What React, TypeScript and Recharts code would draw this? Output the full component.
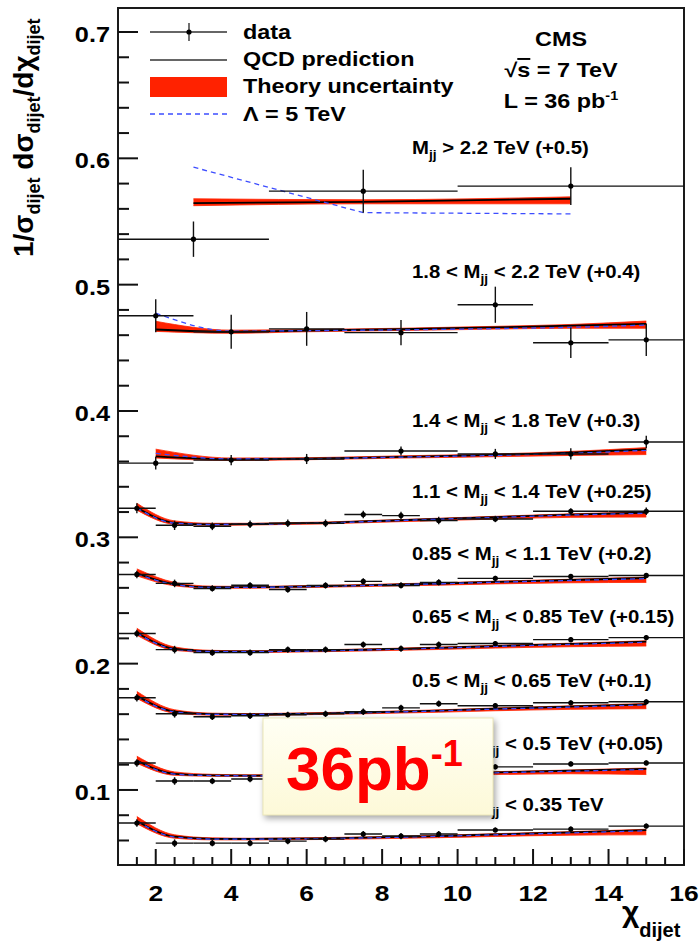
import { Area, ComposedChart, ErrorBar, Line, ReferenceArea, Scatter, XAxis, YAxis } from 'recharts'

const FONT = "'Liberation Sans', Arial, Helvetica, sans-serif"
const RED = '#ff2200'
const BLUE = '#3d4dff'
const Y_MIN = 0.0406
const Y_MAX = 0.719

// chi bin centres / half widths (three binnings)
const chiA = [3, 7.5, 13]
const halfA = [2, 2.5, 3]
const chiB = [2, 4, 6, 8.5, 11, 13, 15]
const halfB = [1, 1, 1, 1.5, 1, 1, 1]
const chiC = [1.5, 2.5, 3.5, 4.5, 5.5, 6.5, 7.5, 8.5, 9.5, 11, 13, 15]
const halfC = [0.5, 0.5, 0.5, 0.5, 0.5, 0.5, 0.5, 0.5, 0.5, 1, 1, 1]

const seriesChi = [chiA, chiB, chiB, chiC, chiC, chiC, chiC, chiC, chiC]
const seriesHalf = [halfA, halfB, halfB, halfC, halfC, halfC, halfC, halfC, halfC]

// mass bin labels, top to bottom
const massPre = ['', '1.8 < ', '1.4 < ', '1.1 < ', '0.85 < ', '0.65 < ', '0.5 < ', '0.35 < ', '0.25 < ']
const massPost = [
  ' > 2.2 TeV (+0.5)', ' < 2.2 TeV (+0.4)', ' < 1.8 TeV (+0.3)', ' < 1.4 TeV (+0.25)', ' < 1.1 TeV (+0.2)',
  ' < 0.85 TeV (+0.15)', ' < 0.65 TeV (+0.1)', ' < 0.5 TeV (+0.05)', ' < 0.35 TeV',
]
const labelBaseline = [154, 278, 427, 498, 560, 623, 687, 750, 811]

// measured (offset already added)
const dataY = [
  [0.536, 0.574, 0.578],
  [0.4754, 0.4627, 0.465, 0.462, 0.4841, 0.454, 0.4563],
  [0.3587, 0.3611, 0.362, 0.3683, 0.366, 0.366, 0.3754],
  [0.323, 0.3095, 0.3087, 0.3103, 0.3111, 0.3111, 0.318, 0.3172, 0.3133, 0.3145, 0.3206, 0.3206],
  [0.2706, 0.2635, 0.2595, 0.262, 0.2587, 0.2619, 0.2651, 0.2619, 0.2643, 0.2675, 0.269, 0.2698],
  [0.2238, 0.2111, 0.2087, 0.2087, 0.2111, 0.2111, 0.2151, 0.2119, 0.2151, 0.2159, 0.219, 0.2206],
  [0.173, 0.1603, 0.1579, 0.1587, 0.1595, 0.1603, 0.1619, 0.165, 0.1683, 0.1667, 0.169, 0.1698],
  [0.1214, 0.1071, 0.1071, 0.1087, 0.1098, 0.1106, 0.1118, 0.1127, 0.1138, 0.1183, 0.1206, 0.1214],
  [0.0738, 0.0579, 0.0579, 0.0579, 0.0595, 0.0611, 0.0651, 0.0635, 0.0651, 0.0683, 0.069, 0.0714],
]
const dataErr = [
  [0.014, 0.017, 0.015],
  [0.013, 0.0135, 0.0134, 0.01, 0.0143, 0.012, 0.0127],
  [0.005, 0.004, 0.004, 0.0035, 0.004, 0.0045, 0.005],
  [0.004, 0.0037, 0.003, 0.003, 0.003, 0.003, 0.003, 0.003, 0.003, 0.0025, 0.0025, 0.003],
  [0.003, 0.003, 0.0025, 0.0025, 0.0025, 0.0025, 0.0025, 0.0025, 0.0025, 0.002, 0.002, 0.002],
  [0.003, 0.003, 0.0025, 0.0025, 0.0025, 0.0025, 0.0025, 0.0025, 0.0025, 0.002, 0.002, 0.002],
  [0.003, 0.003, 0.0025, 0.0025, 0.0025, 0.0025, 0.0025, 0.0025, 0.0025, 0.002, 0.002, 0.002],
  [0.003, 0.003, 0.0025, 0.0025, 0.0025, 0.0025, 0.0025, 0.0025, 0.0025, 0.002, 0.002, 0.002],
  [0.003, 0.003, 0.0025, 0.0025, 0.0025, 0.0025, 0.0025, 0.0025, 0.0025, 0.002, 0.002, 0.002],
]

// QCD prediction and theory band
const qcdY = [
  [0.5645, 0.5655, 0.568],
  [0.4645, 0.4627, 0.4637, 0.4647, 0.4662, 0.4675, 0.469],
  [0.364, 0.3617, 0.3622, 0.3637, 0.3652, 0.367, 0.3695],
  [0.3235, 0.3115, 0.3103, 0.3105, 0.311, 0.3115, 0.3125, 0.3135, 0.3145, 0.316, 0.318, 0.3195],
  [0.2715, 0.2628, 0.2605, 0.2605, 0.2609, 0.2614, 0.262, 0.2627, 0.2634, 0.2647, 0.2662, 0.2678],
  [0.2245, 0.2117, 0.2097, 0.2096, 0.2099, 0.2104, 0.211, 0.2117, 0.2125, 0.2139, 0.2156, 0.2174],
  [0.1745, 0.162, 0.16, 0.1599, 0.1602, 0.1607, 0.1613, 0.162, 0.1628, 0.1643, 0.166, 0.1678],
  [0.1232, 0.1128, 0.1116, 0.1114, 0.1115, 0.1117, 0.112, 0.1124, 0.1129, 0.1139, 0.1152, 0.1167],
  [0.0755, 0.063, 0.0613, 0.0612, 0.0614, 0.0617, 0.0622, 0.0628, 0.0635, 0.0648, 0.0664, 0.0682],
]
const bandLo = [
  [0.5625, 0.564, 0.564],
  [0.463, 0.4615, 0.4627, 0.4637, 0.4648, 0.4655, 0.4655],
  [0.3628, 0.3608, 0.3614, 0.3627, 0.3638, 0.3648, 0.3655],
  [0.3215, 0.3103, 0.3095, 0.3097, 0.3102, 0.3106, 0.3115, 0.3124, 0.3132, 0.3144, 0.3158, 0.316],
  [0.2695, 0.2616, 0.2597, 0.2597, 0.2601, 0.2605, 0.261, 0.2616, 0.2621, 0.2631, 0.264, 0.2643],
  [0.2225, 0.2105, 0.2089, 0.2088, 0.2091, 0.2095, 0.21, 0.2106, 0.2112, 0.2123, 0.2134, 0.2139],
  [0.1725, 0.1608, 0.1592, 0.1591, 0.1594, 0.1598, 0.1603, 0.1609, 0.1615, 0.1627, 0.1638, 0.1643],
  [0.1212, 0.1116, 0.1108, 0.1106, 0.1107, 0.1108, 0.111, 0.1113, 0.1116, 0.1122, 0.1128, 0.1122],
  [0.0733, 0.0618, 0.0605, 0.0604, 0.0606, 0.0608, 0.0612, 0.0617, 0.0622, 0.0632, 0.0642, 0.0645],
]
const bandHi = [
  [0.568, 0.5672, 0.5695],
  [0.471, 0.464, 0.4645, 0.4655, 0.467, 0.4685, 0.4712],
  [0.3698, 0.3628, 0.363, 0.3645, 0.366, 0.368, 0.371],
  [0.327, 0.313, 0.3111, 0.3111, 0.3116, 0.3121, 0.3131, 0.3141, 0.3151, 0.3166, 0.3186, 0.3202],
  [0.275, 0.2643, 0.2613, 0.2611, 0.2615, 0.262, 0.2626, 0.2633, 0.264, 0.2653, 0.2668, 0.2685],
  [0.228, 0.2132, 0.2105, 0.2102, 0.2105, 0.211, 0.2116, 0.2123, 0.2131, 0.2145, 0.2162, 0.2181],
  [0.178, 0.1635, 0.1608, 0.1605, 0.1608, 0.1613, 0.1619, 0.1626, 0.1634, 0.1649, 0.1666, 0.1685],
  [0.1267, 0.1143, 0.1124, 0.112, 0.1121, 0.1123, 0.1126, 0.113, 0.1135, 0.1145, 0.1158, 0.1174],
  [0.079, 0.0645, 0.0621, 0.0618, 0.062, 0.0623, 0.0628, 0.0634, 0.0641, 0.0654, 0.067, 0.0689],
]
// contact interaction, Lambda = 5 TeV
const lambdaY = [
  [0.593, 0.557, 0.556],
  [0.4775, 0.4632, 0.4636, 0.4642, 0.4652, 0.4662, 0.468],
  [0.3665, 0.362, 0.3622, 0.3635, 0.3648, 0.3665, 0.3688],
  [0.3232, 0.3112, 0.3101, 0.3103, 0.3108, 0.3113, 0.3123, 0.3133, 0.3143, 0.3157, 0.3176, 0.319],
  [0.2712, 0.2625, 0.2603, 0.2603, 0.2607, 0.2612, 0.2618, 0.2625, 0.2632, 0.2644, 0.2658, 0.2673],
  [0.2242, 0.2114, 0.2095, 0.2094, 0.2097, 0.2102, 0.2108, 0.2115, 0.2123, 0.2136, 0.2152, 0.2169],
  [0.1742, 0.1617, 0.1598, 0.1597, 0.16, 0.1605, 0.1611, 0.1618, 0.1626, 0.164, 0.1656, 0.1673],
  [0.1229, 0.1125, 0.1114, 0.1112, 0.1113, 0.1115, 0.1118, 0.1122, 0.1127, 0.1136, 0.1148, 0.1162],
  [0.0752, 0.0627, 0.0611, 0.061, 0.0612, 0.0615, 0.062, 0.0626, 0.0633, 0.0645, 0.066, 0.0677],
]

const xTicks = [1.5, 2, 2.5, 3, 3.5, 4, 4.5, 5, 5.5, 6, 6.5, 7, 7.5, 8, 8.5, 9, 9.5, 10, 10.5, 11, 11.5, 12, 12.5, 13, 13.5, 14, 14.5, 15, 15.5, 16]
const yTicks = [
  0.06, 0.08, 0.1, 0.12, 0.14, 0.16, 0.18, 0.2, 0.22, 0.24, 0.26, 0.28, 0.3, 0.32, 0.34, 0.36, 0.38,
  0.4, 0.42, 0.44, 0.46, 0.48, 0.5, 0.52, 0.54, 0.56, 0.58, 0.6, 0.62, 0.64, 0.66, 0.68, 0.7,
]

const points = dataY.map((ys, i) =>
  seriesChi[i].map((x, j) => ({ x, y: ys[j], ex: seriesHalf[i][j], ey: dataErr[i][j] })),
)
const curves = qcdY.map((qs, i) =>
  seriesChi[i].map((x, j) => ({ x, qcd: qs[j], band: [bandLo[i][j], bandHi[i][j]], lam: lambdaY[i][j] })),
)

function YTick(props: any) {
  const { x, y, payload } = props
  const v = payload.value as number
  const major = Math.abs(v * 10 - Math.round(v * 10)) < 1e-6
  return (
    <g>
      <line x1={x} x2={x + (major ? 20 : 11)} y1={y} y2={y} stroke="#111" strokeWidth={2} />
      {major && (
        <text transform={`translate(${x - 8},${y + 10}) scale(1.15,1)`} textAnchor="end" fontSize={22} fontWeight="bold" fontFamily={FONT} fill="#000">
          {v.toFixed(1)}
        </text>
      )}
    </g>
  )
}

function XTick(props: any) {
  const { x, y, payload } = props
  const v = payload.value as number
  const major = v % 2 === 0
  return (
    <g>
      <line x1={x} x2={x} y1={y} y2={y - (major ? 16 : 8)} stroke="#111" strokeWidth={2} />
      {major && (
        <text transform={`translate(${x},${y + 36}) scale(1.2,1)`} textAnchor="middle" fontSize={22} fontWeight="bold" fontFamily={FONT} fill="#000">
          {v}
        </text>
      )}
    </g>
  )
}

function Txt({ x, y, size, sx = 1, anchor = 'start', fill = '#000', children }: any) {
  return (
    <text transform={`translate(${x},${y}) scale(${sx},1)`} fontSize={size} fontWeight="bold" textAnchor={anchor} fontFamily={FONT} fill={fill}>
      {children}
    </text>
  )
}

export default function App() {
  return (
    <div style={{ position: 'absolute', left: 0, top: 0, width: 700, height: 947, background: '#fff' }}>
      <ComposedChart width={700} height={947} margin={{ top: 8, right: 16, bottom: 0, left: 0 }}>
        <XAxis type="number" dataKey="x" domain={[1, 16]} ticks={xTicks} interval={0} allowDataOverflow height={82}
          tickSize={0} tickMargin={0} axisLine={false} tickLine={false} tick={(p: any) => <XTick {...p} />} />
        <YAxis type="number" domain={[Y_MIN, Y_MAX]} ticks={yTicks} interval={0} allowDataOverflow width={118}
          tickSize={0} tickMargin={0} axisLine={false} tickLine={false} tick={(p: any) => <YTick {...p} />} />
        <ReferenceArea x1={1} x2={16} y1={Y_MIN} y2={Y_MAX} fill="none" fillOpacity={0} stroke="#1a1a1a" strokeWidth={2} ifOverflow="visible" />
        {curves.map((c, i) => (
          <Area key={`band-${i}`} data={c} dataKey="band" type="monotone" fill={RED} fillOpacity={1} stroke={RED} strokeWidth={0.8} isAnimationActive={false} />
        ))}
        {curves.map((c, i) => (
          <Line key={`qcd-${i}`} data={c} dataKey="qcd" type={i === 0 ? 'linear' : 'monotone'} stroke="#000" strokeWidth={1.8} dot={false} activeDot={false} isAnimationActive={false} />
        ))}
        {curves.map((c, i) => (
          <Line key={`lam-${i}`} data={c} dataKey="lam" type={i === 0 ? 'linear' : 'monotone'} stroke={BLUE} strokeWidth={1.3} strokeDasharray="5 4" dot={false} activeDot={false} isAnimationActive={false} />
        ))}
        {points.map((p, i) => (
          <Scatter key={`data-${i}`} data={p} dataKey="y" isAnimationActive={false}
            shape={(s: any) => <circle cx={s.cx} cy={s.cy} r={2.6} fill="#000" />}>
            <ErrorBar dataKey="ex" direction="x" width={0} stroke="#111" strokeWidth={1.4} />
            <ErrorBar dataKey="ey" direction="y" width={0} stroke="#111" strokeWidth={1.4} />
          </Scatter>
        ))}
      </ComposedChart>

      <svg width={700} height={947} style={{ position: 'absolute', left: 0, top: 0, pointerEvents: 'none' }}>
        <defs>
          <linearGradient id="boxFill" x1="0" y1="0" x2="0" y2="1">
            <stop offset="0" stopColor="#fffff4" />
            <stop offset="1" stopColor="#fdf9d8" />
          </linearGradient>
        </defs>

        {/* y title */}
        <g transform="translate(33,257) rotate(-90)">
          <text fontSize={28} fontWeight="bold" fontFamily={FONT} fill="#000">
            1/σ<tspan fontSize={18} dy={7}>dijet</tspan>
            <tspan dy={-7}> dσ</tspan><tspan fontSize={18} dy={7}>dijet</tspan>
            <tspan dy={-7}>/dχ</tspan><tspan fontSize={18} dy={7}>dijet</tspan>
          </text>
        </g>

        {/* x title */}
        <text x={622} y={922} fontSize={30} fontWeight="bold" fontFamily={FONT} fill="#000">
          χ<tspan fontSize={20} dy={15}>dijet</tspan>
        </text>

        {/* legend */}
        <line x1={150} x2={227} y1={32} y2={32} stroke="#333" strokeWidth={1.4} />
        <line x1={189} x2={189} y1={23} y2={41} stroke="#333" strokeWidth={1.4} />
        <circle cx={189} cy={32} r={2.6} fill="#000" />
        <line x1={150} x2={227} y1={60} y2={60} stroke="#333" strokeWidth={1.6} />
        <rect x={150} y={77} width={77} height={20} fill={RED} />
        <line x1={150} x2={227} y1={114} y2={114} stroke={BLUE} strokeWidth={1.3} strokeDasharray="5 4" />
        <Txt x={243} y={39} size={19.5} sx={1.2}>data</Txt>
        <Txt x={243} y={66} size={19.5} sx={1.2}>QCD prediction</Txt>
        <Txt x={243} y={93} size={19.5} sx={1.2}>Theory uncertainty</Txt>
        <Txt x={243} y={121} size={19.5} sx={1.2}>Λ = 5 TeV</Txt>

        {/* experiment tag */}
        <Txt x={561} y={46} size={19.5} sx={1.2} anchor="middle">CMS</Txt>
        <Txt x={561} y={77} size={19.5} sx={1.2} anchor="middle">
          √<tspan style={{ textDecoration: 'overline' }}>s</tspan> = 7 TeV
        </Txt>
        <Txt x={561} y={108} size={19.5} sx={1.2} anchor="middle">
          L = 36 pb<tspan fontSize={12} dy={-8}>-1</tspan>
        </Txt>

        {/* mass bin labels */}
        {massPost.map((post, i) => (
          <Txt key={`lab-${i}`} x={412} y={labelBaseline[i]} size={18.5} sx={1.1}>
            {massPre[i]}M<tspan fontSize={12.5} dy={5}>jj</tspan><tspan dy={-5}>{post}</tspan>
          </Txt>
        ))}

        {/* luminosity box */}
        <rect x={263} y={718} width={230} height={97} fill="url(#boxFill)" stroke="#ece7b8" strokeWidth={1}
          style={{ filter: 'drop-shadow(2px 3px 3px rgba(0,0,0,0.35))' }} />
        <text x={286} y={790} fontSize={62} fontWeight="bold" fontFamily={FONT} fill="#ff0000">
          36pb<tspan fontSize={36} dy={-24}>-1</tspan>
        </text>
      </svg>
    </div>
  )
}
